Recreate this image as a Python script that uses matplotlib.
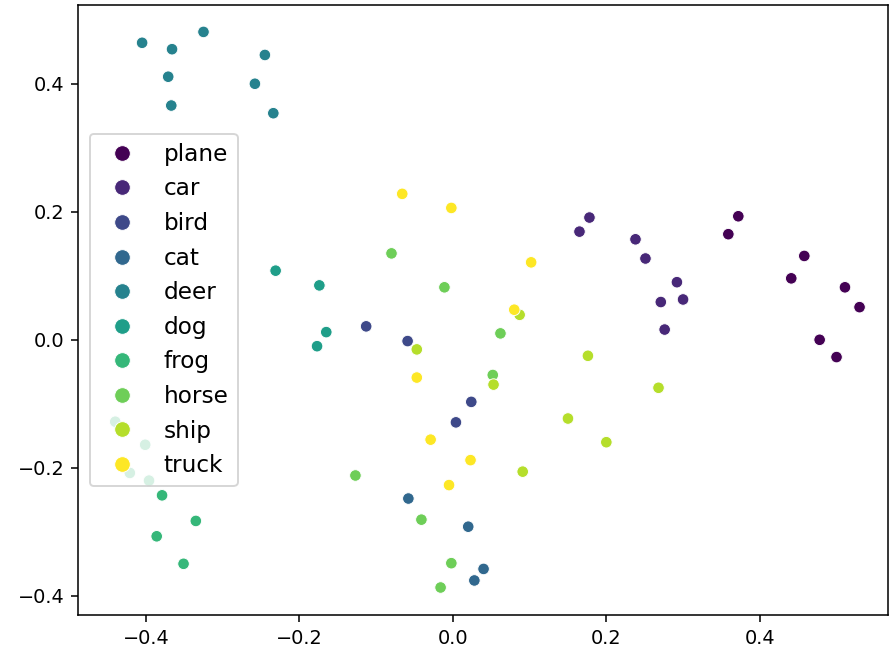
import matplotlib

matplotlib.use("Agg")
import matplotlib.pyplot as plt
import numpy as np
import pandas as pd
import seaborn as sns

CLASSES = ["plane", "car", "bird", "cat", "deer", "dog", "frog", "horse", "ship", "truck"]

# 2-D embedding coordinates per class
plane_x = [0.372, 0.359, 0.458, 0.441, 0.511, 0.530, 0.478, 0.500]
plane_y = [0.193, 0.165, 0.131, 0.096, 0.082, 0.051, 0.000, -0.027]
car_x = [0.178, 0.165, 0.238, 0.251, 0.292, 0.271, 0.300, 0.276]
car_y = [0.191, 0.169, 0.157, 0.127, 0.090, 0.059, 0.063, 0.016]
bird_x = [-0.113, -0.059, 0.024, 0.004]
bird_y = [0.021, -0.002, -0.097, -0.129]
cat_x = [-0.058, 0.020, 0.040, 0.028]
cat_y = [-0.248, -0.292, -0.358, -0.376]
deer_x = [-0.405, -0.366, -0.325, -0.371, -0.367, -0.245, -0.258, -0.234]
deer_y = [0.464, 0.454, 0.481, 0.411, 0.366, 0.445, 0.400, 0.354]
dog_x = [-0.231, -0.174, -0.165, -0.177]
dog_y = [0.108, 0.085, 0.012, -0.010]
frog_x = [-0.440, -0.401, -0.421, -0.396, -0.379, -0.335, -0.386, -0.351]
frog_y = [-0.128, -0.164, -0.208, -0.220, -0.243, -0.283, -0.307, -0.350]
horse_x = [-0.080, -0.011, 0.062, 0.052, -0.127, -0.041, -0.002, -0.016]
horse_y = [0.135, 0.082, 0.010, -0.055, -0.212, -0.281, -0.349, -0.387]
ship_x = [0.176, 0.268, 0.150, 0.200, 0.087, -0.047, 0.053, 0.091]
ship_y = [-0.025, -0.075, -0.123, -0.160, 0.039, -0.015, -0.070, -0.206]
truck_x = [-0.066, -0.002, 0.102, 0.080, -0.047, -0.029, 0.023, -0.005]
truck_y = [0.228, 0.206, 0.121, 0.047, -0.059, -0.156, -0.188, -0.227]

xs = [plane_x, car_x, bird_x, cat_x, deer_x, dog_x, frog_x, horse_x, ship_x, truck_x]
ys = [plane_y, car_y, bird_y, cat_y, deer_y, dog_y, frog_y, horse_y, ship_y, truck_y]

rows = []
for name, cx, cy in zip(CLASSES, xs, ys):
    for x, y in zip(cx, cy):
        rows.append((x, y, name))
df = pd.DataFrame(rows, columns=["x", "y", "label"])

# full viridis range: plane is the darkest purple, truck the brightest yellow
colors = [tuple(c) for c in matplotlib.colormaps["viridis"](np.linspace(0, 1, len(CLASSES)))]

fig = plt.figure(figsize=(889 / 139, 654 / 139), dpi=139)
ax = fig.add_axes([0.0877, 0.0596, 0.9111, 0.9327])
sns.scatterplot(data=df, x="x", y="y", hue="label", hue_order=CLASSES,
                palette=colors, ax=ax)
ax.set_xlim(-0.4886, 0.567)
ax.set_ylim(-0.430, 0.523)
ax.set_xlabel("")
ax.set_ylabel("")
ax.set_xticks([-0.4, -0.2, 0.0, 0.2, 0.4])
ax.set_yticks([-0.4, -0.2, 0.0, 0.2, 0.4])
ax.legend(loc="center left", fontsize=12, markerscale=1.35)
fig.savefig("out.png", dpi=139)
plt.close(fig)
